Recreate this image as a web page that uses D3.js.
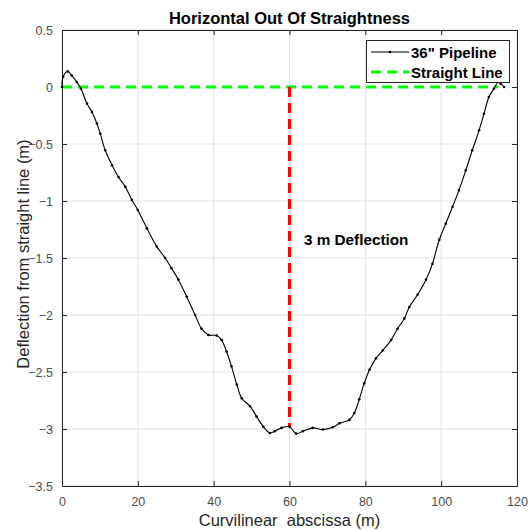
<!DOCTYPE html>
<html>
<head>
<meta charset="utf-8">
<script src="https://cdn.jsdelivr.net/npm/d3@7.9.0/dist/d3.min.js"></script>
<style>
  body { margin: 0; background: #fff; }
  svg { display: block; font-family: "Liberation Sans", Arial, sans-serif; }
</style>
</head>
<body>
<svg id="chart" width="532" height="530"></svg>
<script>
// pipeline readings (abscissa in m, deflection in m)
const abscissa = [0, 0.3, 1.5, 2.6, 3.9, 5, 6.6, 7.9, 9.2, 10.1, 11.4, 13.2, 14.9, 16.7, 18.4, 20,
  22.4, 25, 27.2, 28.9, 30.7, 32.9, 35.1, 36.8, 38.6, 40.8, 42.1, 43.4, 44.7, 46.1, 47.4, 49.6,
  51.3, 53.1, 54.8, 56.1, 57.9, 60, 61.75, 63.5, 66.1, 68.8, 71.4, 73.2, 75.8, 77.1, 78.4, 79.7,
  81.1, 82.8, 84.6, 86.8, 88.5, 90.3, 91.6, 93.8, 96, 97.7, 99.5, 101.2, 103, 104.7, 106.5,
  108.2, 110, 111.3, 112.6, 113.9, 115.1, 115.7, 116.6];
const deflection = [0, 0.09, 0.137, 0.1, 0.044, -0.015, -0.146, -0.22, -0.32, -0.41, -0.555, -0.686,
  -0.79, -0.876, -0.99, -1.08, -1.24, -1.4, -1.5, -1.59, -1.69, -1.84, -2.0, -2.12, -2.175, -2.18,
  -2.22, -2.32, -2.45, -2.61, -2.73, -2.8, -2.89, -2.98, -3.035, -3.02, -2.99, -2.98, -3.04, -3.02,
  -2.99, -3.005, -2.985, -2.95, -2.92, -2.86, -2.74, -2.6, -2.48, -2.38, -2.31, -2.22, -2.12,
  -2.03, -1.93, -1.82, -1.69, -1.55, -1.34, -1.2, -1.05, -0.905, -0.73, -0.555, -0.38, -0.234,
  -0.088, -0.015, 0.044, 0.03, 0];

const straightX = [0, 115];
const straightY = [0, 0];
const deflX = [60, 60];
const deflY = [0, -2.98];

const xTicks = [0, 20, 40, 60, 80, 100, 120];
const yTicks = [0.5, 0, -0.5, -1, -1.5, -2, -2.5, -3, -3.5];

const margin = { left: 62, right: 15, top: 30, bottom: 44 };
const W = 532, H = 530;
const svg = d3.select('#chart');

const x = d3.scaleLinear().domain([0, 120]).range([margin.left, W - margin.right]);
const y = d3.scaleLinear().domain([-3.5, 0.5]).range([H - margin.bottom, margin.top]);

const axisCol = '#262626';

// grid
svg.append('g').selectAll('line.gx').data(xTicks).join('line')
  .attr('x1', d => x(d)).attr('x2', d => x(d))
  .attr('y1', y(-3.5)).attr('y2', y(0.5))
  .attr('stroke', '#e3e3e3').attr('stroke-width', 1);
svg.append('g').selectAll('line.gy').data(yTicks).join('line')
  .attr('x1', x(0)).attr('x2', x(120))
  .attr('y1', d => y(d)).attr('y2', d => y(d))
  .attr('stroke', '#e3e3e3').attr('stroke-width', 1);

// axes (ticks inside, box on)
const xAxis = d3.axisBottom(x).tickValues(xTicks).tickSizeInner(-5).tickSizeOuter(0).tickPadding(11);
const yAxis = d3.axisLeft(y).tickValues(yTicks).tickSizeInner(-5).tickSizeOuter(0).tickPadding(9)
  .tickFormat(d3.format('~g'));

const gx = svg.append('g').attr('transform', `translate(0,${y(-3.5)})`).call(xAxis);
const gy = svg.append('g').attr('transform', `translate(${x(0)},0)`).call(yAxis);
const gx2 = svg.append('g').attr('transform', `translate(0,${y(0.5)})`)
  .call(d3.axisTop(x).tickValues(xTicks).tickSizeInner(-5).tickSizeOuter(0).tickFormat(''));
const gy2 = svg.append('g').attr('transform', `translate(${x(120)},0)`)
  .call(d3.axisRight(y).tickValues(yTicks).tickSizeInner(-5).tickSizeOuter(0).tickFormat(''));

[gx, gy, gx2, gy2].forEach(g => {
  g.select('.domain').attr('stroke', axisCol);
  g.selectAll('.tick line').attr('stroke', axisCol);
  g.selectAll('text').attr('fill', '#4d4d4d').style('font-size', '12.5px')
    .style('font-family', '"Liberation Sans", Arial, sans-serif');
});
gx.selectAll('.tick').filter(d => d === 0 || d === 120).select('line').remove();
gy.selectAll('.tick').filter(d => d === 0.5 || d === -3.5).select('line').remove();

// reference lines
const line = d3.line().x(d => x(d[0])).y(d => y(d[1]));
svg.append('path')
  .attr('d', line(d3.zip(straightX, straightY)))
  .attr('stroke', '#00ff00').attr('stroke-width', 3).attr('fill', 'none')
  .attr('stroke-dasharray', '10,6');
svg.append('path')
  .attr('d', line(d3.zip(deflX, deflY)))
  .attr('stroke', '#ff0000').attr('stroke-width', 3).attr('fill', 'none')
  .attr('stroke-dasharray', '10,6');

// pipeline
const pts = d3.zip(abscissa, deflection);
const smooth = d3.line().x(d => x(d[0])).y(d => y(d[1])).curve(d3.curveCatmullRom.alpha(0.5));
svg.append('path')
  .attr('d', smooth(pts))
  .attr('stroke', '#000').attr('stroke-width', 1.1).attr('fill', 'none');
svg.append('g').selectAll('circle').data(pts).join('circle')
  .attr('cx', d => x(d[0])).attr('cy', d => y(d[1])).attr('r', 1.3).attr('fill', '#000');

// annotation
svg.append('text').attr('x', x(63.8)).attr('y', y(-1.34) + 5)
  .attr('font-size', 15.3).attr('font-weight', 'bold').attr('fill', '#000')
  .text('3 m Deflection');

// title and labels
svg.append('text').attr('x', (x(0) + x(120)) / 2).attr('y', 24)
  .attr('text-anchor', 'middle').attr('font-size', 16.5).attr('font-weight', 'bold').attr('fill', '#000')
  .text('Horizontal Out Of Straightness');
svg.append('text').attr('x', (x(0) + x(120)) / 2).attr('y', 526)
  .attr('text-anchor', 'middle').attr('font-size', 16.5).attr('fill', axisCol)
  .attr('xml:space', 'preserve').style('white-space', 'pre')
  .text('Curvilinear  abscissa (m)');
svg.append('text').attr('transform', `translate(29,${(y(0.5) + y(-3.5)) / 2 - 4}) rotate(-90)`)
  .attr('text-anchor', 'middle').attr('font-size', 16.5).attr('fill', axisCol)
  .text('Deflection from straight line (m)');

// legend
const lg = svg.append('g');
lg.append('rect').attr('x', 366.5).attr('y', 40.5).attr('width', 143).attr('height', 42)
  .attr('fill', '#fff').attr('stroke', axisCol).attr('stroke-width', 1);
lg.append('line').attr('x1', 371).attr('x2', 409).attr('y1', 52).attr('y2', 52)
  .attr('stroke', '#000').attr('stroke-width', 1);
lg.append('circle').attr('cx', 390).attr('cy', 52).attr('r', 1.3).attr('fill', '#000');
lg.append('line').attr('x1', 371).attr('x2', 409).attr('y1', 72).attr('y2', 72)
  .attr('stroke', '#00ff00').attr('stroke-width', 3).attr('stroke-dasharray', '10,6');
lg.append('text').attr('x', 411).attr('y', 57.5).attr('font-size', 15).attr('font-weight', 'bold')
  .attr('fill', '#000').text('36" Pipeline');
lg.append('text').attr('x', 411).attr('y', 77.5).attr('font-size', 15).attr('font-weight', 'bold')
  .attr('fill', '#000').text('Straight Line');
</script>
</body>
</html>
